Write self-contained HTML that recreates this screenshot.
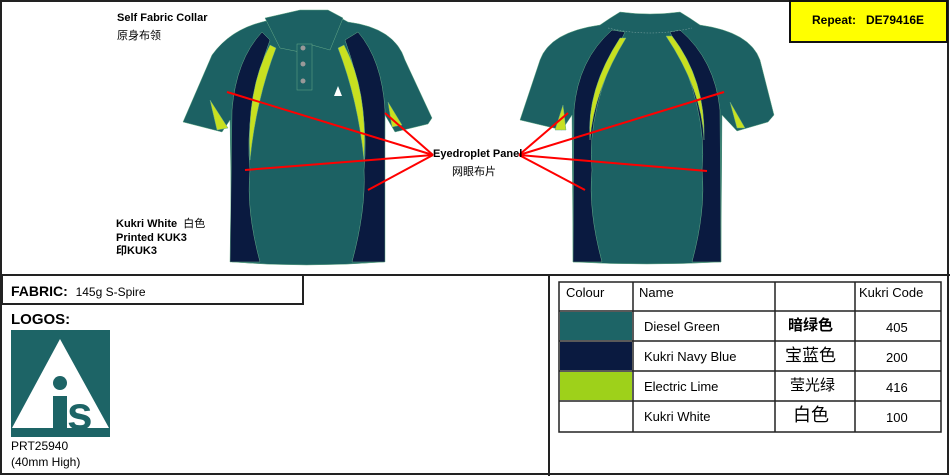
<!DOCTYPE html>
<html><head><meta charset="utf-8"><style>
body{margin:0;width:950px;height:476px;overflow:hidden;background:#fff;font-family:"Liberation Sans","Noto Sans CJK SC",sans-serif}
.t{position:absolute;font-size:11px;color:#000;white-space:nowrap;line-height:13px}
</style></head><body>
<svg width="950" height="476" style="position:absolute;left:0;top:0">
<rect x="1" y="1" width="947" height="473" fill="none" stroke="#222" stroke-width="2"/>
<line x1="0" y1="275" x2="950" y2="275" stroke="#222" stroke-width="2"/>
<line x1="549" y1="275" x2="549" y2="476" stroke="#222" stroke-width="2"/>
<rect x="2" y="275" width="301" height="29" fill="none" stroke="#222" stroke-width="2"/>
<rect x="790" y="1" width="157" height="41" fill="#ffff00" stroke="#111" stroke-width="2"/>
<!-- front shirt -->
<g stroke="#6a8" stroke-width="0.5">
<path d="M262,22 L300,12 L330,12 L348,22 Q395,28 405,60 L432,118 L428,124 L395,132 L385,115 L384,262 Q305,268 232,262 L230,120 L222,132 L183,122 L212,55 Q230,30 262,22Z" fill="#1c6163"/>
<path d="M262,32 Q236,60 232,110 L230,262 L260,262 Q246,210 250,170 Q244,110 270,40Z" fill="#0a1a40"/>
<path d="M358,32 Q382,60 385,110 L385,262 L352,262 Q366,210 364,170 Q370,110 345,40Z" fill="#0a1a40"/>
<path d="M270,45 Q246,90 250,160 Q256,100 276,48Z" fill="#c8e020"/>
<path d="M344,45 Q368,90 364,160 Q358,100 338,48Z" fill="#c8e020"/>
<path d="M210,100 L217,130 L228,128 Z" fill="#c8e020"/>
<path d="M388,102 L392,127 L402,125 Z" fill="#c8e020"/>
<path d="M265,18 L300,10 L328,10 L343,18 L330,50 L312,45 L300,52 L280,48 Z" fill="#1c6163"/>
<rect x="297" y="44" width="15" height="46" fill="#1c6163"/>
</g>
<circle cx="303" cy="48" r="2.5" fill="#999"/><circle cx="303" cy="64" r="2.5" fill="#999"/><circle cx="303" cy="81" r="2.5" fill="#999"/>
<path d="M334,96 L338,86 L342,96Z" fill="#fff"/>
<!-- back shirt -->
<g stroke="#6a8" stroke-width="0.5">
<path d="M600,25 Q610,18 620,12 Q650,16 680,12 Q690,18 700,25 Q750,32 760,60 L774,115 L768,122 L737,131 L722,115 L721,262 Q647,266 573,262 L572,115 L562,130 L520,120 L540,60 Q550,32 600,25Z" fill="#1c6163"/>
<path d="M612,30 Q578,60 574,110 L573,262 L602,262 Q588,210 592,170 Q586,110 625,32Z" fill="#0a1a40"/>
<path d="M680,30 Q715,60 720,110 L721,262 L692,262 Q706,210 702,170 Q708,110 670,32Z" fill="#0a1a40"/>
<path d="M620,38 Q586,90 590,140 Q594,90 626,38Z" fill="#c8e020"/>
<path d="M672,36 Q706,80 704,140 Q702,90 666,36Z" fill="#c8e020"/>
<path d="M563,105 L555,130 L566,130Z" fill="#c8e020"/>
<path d="M730,102 L737,128 L745,128Z" fill="#c8e020"/>
<path d="M608,28 Q650,38 692,28" fill="none" stroke="#8aa" stroke-dasharray="1.5 1.5"/>
</g>
<g stroke="#f00" stroke-width="2">
<line x1="433" y1="155" x2="227" y2="92"/><line x1="433" y1="155" x2="245" y2="170"/>
<line x1="433" y1="155" x2="385" y2="113"/><line x1="433" y1="155" x2="368" y2="190"/>
<line x1="519" y1="155" x2="724" y2="92"/><line x1="519" y1="155" x2="568" y2="113"/>
<line x1="519" y1="155" x2="707" y2="171"/><line x1="519" y1="155" x2="585" y2="190"/>
</g>
<!-- logo -->
<rect x="11" y="330" width="99" height="107" fill="#1d6466"/>
<path d="M60,339 L109,428 L12,428Z" fill="#fff"/>
<circle cx="60" cy="383" r="7" fill="#1d6466"/>
<rect x="53" y="396" width="14" height="32" fill="#1d6466"/>
<text x="67" y="429" font-family="Liberation Sans" font-weight="bold" font-size="46" fill="#1d6466">s</text>
<!-- table -->
<g stroke="#222" stroke-width="1.5" fill="none">
<rect x="559" y="282" width="382" height="150"/>
<line x1="559" y1="311" x2="941" y2="311"/><line x1="559" y1="341" x2="941" y2="341"/>
<line x1="559" y1="371" x2="941" y2="371"/><line x1="559" y1="401" x2="941" y2="401"/>
<line x1="633" y1="282" x2="633" y2="432"/><line x1="775" y1="282" x2="775" y2="432"/><line x1="855" y1="282" x2="855" y2="432"/>
</g>
<rect x="560" y="312" width="72" height="28" fill="#1d6466"/>
<rect x="560" y="342" width="72" height="28" fill="#0a1a40"/>
<rect x="560" y="372" width="72" height="28" fill="#9ed11a"/>
</svg>
<div class="t" style="left:117px;top:12px;font-weight:bold">Self Fabric Collar</div>
<div class="t" style="left:117px;top:30px">原身布领</div>
<div class="t" style="left:116px;top:218px;font-weight:bold">Kukri White&nbsp; <span style="font-weight:normal">白色</span></div>
<div class="t" style="left:116px;top:232px;font-weight:bold">Printed KUK3</div>
<div class="t" style="left:116px;top:245px;font-weight:bold">印KUK3</div>
<div class="t" style="left:433px;top:148px;font-weight:bold">Eyedroplet Panel</div>
<div class="t" style="left:452px;top:166px">网眼布片</div>
<div class="t" style="left:812px;top:14px;font-weight:bold;font-size:12px">Repeat:&nbsp;&nbsp; DE79416E</div>
<div class="t" style="left:11px;top:283px;font-weight:bold;font-size:14px;line-height:16px">FABRIC:&nbsp; <span style="font-weight:normal;font-size:12px">145g S-Spire</span></div>
<div class="t" style="left:11px;top:311px;font-weight:bold;font-size:15px;line-height:17px">LOGOS:</div>
<div class="t" style="left:11px;top:439px;font-size:12px;line-height:14px">PRT25940</div>
<div class="t" style="left:11px;top:455px;font-size:12px;line-height:14px">(40mm High)</div>
<div class="t" style="left:566px;top:285px;font-size:13px;line-height:15px">Colour</div>
<div class="t" style="left:639px;top:285px;font-size:13px;line-height:15px">Name</div>
<div class="t" style="left:859px;top:285px;font-size:13px;line-height:15px">Kukri Code</div>
<div class="t" style="left:644px;top:319px;font-size:13px;line-height:15px">Diesel Green</div>
<div class="t" style="left:644px;top:349px;font-size:13px;line-height:15px">Kukri Navy Blue</div>
<div class="t" style="left:644px;top:379px;font-size:13px;line-height:15px">Electric Lime</div>
<div class="t" style="left:644px;top:409px;font-size:13px;line-height:15px">Kukri White</div>
<div class="t" style="left:788px;top:316px;font-size:15px;font-weight:bold;line-height:20px">暗绿色</div>
<div class="t" style="left:785px;top:345px;font-size:17px;line-height:22px">宝蓝色</div>
<div class="t" style="left:790px;top:376px;font-size:15px;line-height:20px">莹光绿</div>
<div class="t" style="left:793px;top:404px;font-size:18px;line-height:23px">白色</div>
<div class="t" style="left:886px;top:320px;font-size:13px;line-height:15px">405</div>
<div class="t" style="left:886px;top:350px;font-size:13px;line-height:15px">200</div>
<div class="t" style="left:886px;top:380px;font-size:13px;line-height:15px">416</div>
<div class="t" style="left:886px;top:410px;font-size:13px;line-height:15px">100</div>
</body></html>
